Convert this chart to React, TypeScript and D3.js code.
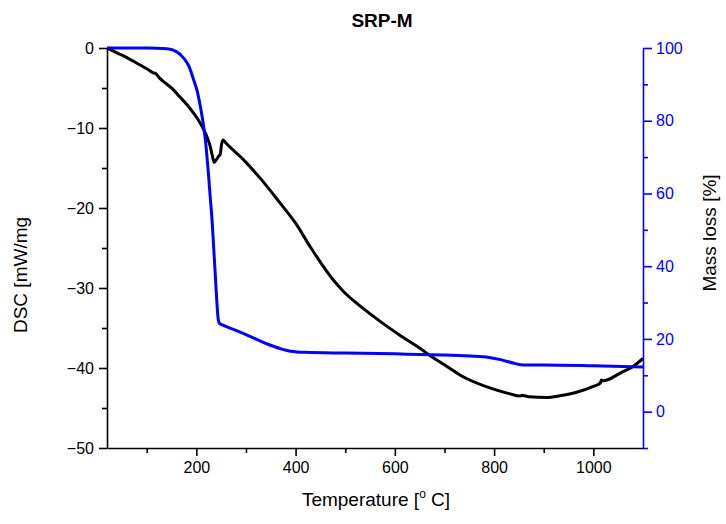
import React, { useEffect, useRef } from 'react';
import * as d3 from 'd3';

// DSC signal [mW/mg] against temperature [°C]
const dscTemp = [20, 40, 60, 80, 100, 113, 118, 125, 140, 152, 165, 180, 194, 205, 214, 222, 228, 232, 236, 240, 244, 248, 251, 254, 260, 275, 289, 300, 329, 369, 400, 430, 476, 496, 531, 571, 610, 652, 672, 700, 732, 787, 830, 853, 856, 870, 908, 930, 968, 1000, 1014, 1016, 1020, 1055, 1080, 1100];
const dscValue = [0, -0.6, -1.2, -1.9, -2.6, -3.1, -3.2, -3.7, -4.5, -5.1, -6.0, -7.0, -8.1, -9.1, -10.1, -11.2, -12.3, -13.4, -14.3, -14.0, -13.6, -13.3, -12.0, -11.5, -11.9, -12.8, -13.6, -14.3, -16.3, -19.4, -21.9, -24.9, -29.0, -30.4, -32.3, -34.2, -35.9, -37.6, -38.5, -39.6, -40.9, -42.4, -43.2, -43.5, -43.4, -43.6, -43.7, -43.5, -43.0, -42.3, -41.9, -41.5, -41.6, -40.6, -39.8, -38.8];

// TG mass [%] against temperature [°C]
const massTemp = [20, 100, 141, 160, 174, 185, 194, 202, 208, 213, 218, 224, 228, 232, 235, 238, 241, 244, 247, 250, 275, 300, 343, 370, 390, 420, 500, 600, 652, 700, 752, 790, 813, 840, 859, 900, 1000, 1100];
const massValue = [100, 100, 99.8, 99, 97.3, 95, 91.5, 88, 84, 80, 75, 66, 59, 52, 45, 38, 31, 25.5, 24.2, 24.0, 22.6, 21.2, 18.6, 17.3, 16.6, 16.3, 16.1, 15.9, 15.7, 15.6, 15.3, 14.9, 14.3, 13.3, 12.8, 12.8, 12.6, 12.3];

const xMajor = [200, 400, 600, 800, 1000];
const xMinor = [100, 300, 500, 700, 900];
const dscMajor = [-50, -40, -30, -20, -10, 0];
const dscMinor = [-45, -35, -25, -15, -5];
const massMajor = [0, 20, 40, 60, 80, 100];
const massMinor = [-10, 10, 30, 50, 70, 90];

const W = 726;
const H = 524;
const margin = { left: 107, right: 83, top: 48, bottom: 76 };
const font = 'Liberation Sans, Arial, sans-serif';
const BLUE = '#0000ff';

export default function App() {
  const ref = useRef<SVGSVGElement>(null);

  useEffect(() => {
    const svg = d3.select(ref.current);
    svg.selectAll('*').remove();

    const x = d3.scaleLinear().domain([20, 1100]).range([margin.left, W - margin.right]);
    const yDsc = d3.scaleLinear().domain([-50, 0]).range([H - margin.bottom, margin.top]);
    const yMass = d3.scaleLinear().domain([-10, 100]).range([H - margin.bottom, margin.top]);

    svg.append('clipPath').attr('id', 'plot-clip').append('rect')
      .attr('x', margin.left).attr('y', margin.top - 4)
      .attr('width', W - margin.left - margin.right).attr('height', H - margin.top - margin.bottom + 4);

    const plot = svg.append('g').attr('clip-path', 'url(#plot-clip)');

    const dscLine = d3.line<number>()
      .x((_, i) => x(dscTemp[i]))
      .y(d => yDsc(d))
      .curve(d3.curveMonotoneX);

    const massLine = d3.line<number>()
      .x((_, i) => x(massTemp[i]))
      .y(d => yMass(d))
      .curve(d3.curveMonotoneX);

    plot.append('path')
      .datum(dscValue)
      .attr('d', dscLine)
      .attr('fill', 'none')
      .attr('stroke', '#000')
      .attr('stroke-width', 3)
      .attr('stroke-linejoin', 'round');

    plot.append('path')
      .datum(massValue)
      .attr('d', massLine)
      .attr('fill', 'none')
      .attr('stroke', BLUE)
      .attr('stroke-width', 3)
      .attr('stroke-linejoin', 'round');

    const styleAxis = (g: any, color: string) => {
      g.selectAll('path, line').attr('stroke', color).attr('stroke-width', 1.6);
      g.selectAll('text').attr('fill', color).attr('font-family', font).attr('font-size', 16);
    };

    // bottom axis
    const bottom = svg.append('g').attr('transform', `translate(0,${H - margin.bottom})`);
    bottom.call(d3.axisBottom(x).tickValues(xMajor).tickSize(8).tickSizeOuter(0).tickPadding(6).tickFormat(d3.format('d')));
    styleAxis(bottom, '#000');
    svg.append('g').attr('transform', `translate(0,${H - margin.bottom})`)
      .call(d3.axisBottom(x).tickValues(xMinor).tickSize(5).tickFormat(() => ''))
      .call((g: any) => { g.select('.domain').remove(); styleAxis(g, '#000'); });

    // left DSC axis
    const left = svg.append('g').attr('transform', `translate(${margin.left},0)`);
    left.call(d3.axisLeft(yDsc).tickValues(dscMajor).tickSize(8).tickSizeOuter(0).tickPadding(5));
    styleAxis(left, '#000');
    svg.append('g').attr('transform', `translate(${margin.left},0)`)
      .call(d3.axisLeft(yDsc).tickValues(dscMinor).tickSize(5).tickFormat(() => ''))
      .call((g: any) => { g.select('.domain').remove(); styleAxis(g, '#000'); });

    // right mass axis
    const right = svg.append('g').attr('transform', `translate(${W - margin.right},0)`);
    right.call(d3.axisRight(yMass).tickValues(massMajor).tickSize(9).tickSizeOuter(0).tickPadding(4));
    styleAxis(right, BLUE);
    svg.append('g').attr('transform', `translate(${W - margin.right},0)`)
      .call(d3.axisRight(yMass).tickValues(massMinor).tickSize(5).tickFormat(() => ''))
      .call((g: any) => { g.select('.domain').remove(); styleAxis(g, BLUE); });

    // title and axis labels
    svg.append('text')
      .attr('x', 382).attr('y', 27)
      .attr('text-anchor', 'middle')
      .attr('font-family', font).attr('font-size', 19).attr('font-weight', 'bold')
      .text('SRP-M');

    const xl = svg.append('text')
      .attr('x', 376).attr('y', 506)
      .attr('text-anchor', 'middle')
      .attr('font-family', font).attr('font-size', 19);
    xl.append('tspan').text('Temperature [');
    xl.append('tspan').attr('dy', -8).attr('font-size', 12).text('o');
    xl.append('tspan').attr('dy', 8).text(' C]');

    svg.append('text')
      .attr('transform', `translate(27,275) rotate(-90)`)
      .attr('text-anchor', 'middle')
      .attr('font-family', font).attr('font-size', 19)
      .text('DSC [mW/mg');

    svg.append('text')
      .attr('transform', `translate(716,233) rotate(-90)`)
      .attr('text-anchor', 'middle')
      .attr('font-family', font).attr('font-size', 19)
      .text('Mass loss [%]');
  }, []);

  return (
    <svg
      ref={ref}
      width={W}
      height={H}
      style={{ position: 'absolute', left: 0, top: 0, background: '#fff' }}
    />
  );
}
